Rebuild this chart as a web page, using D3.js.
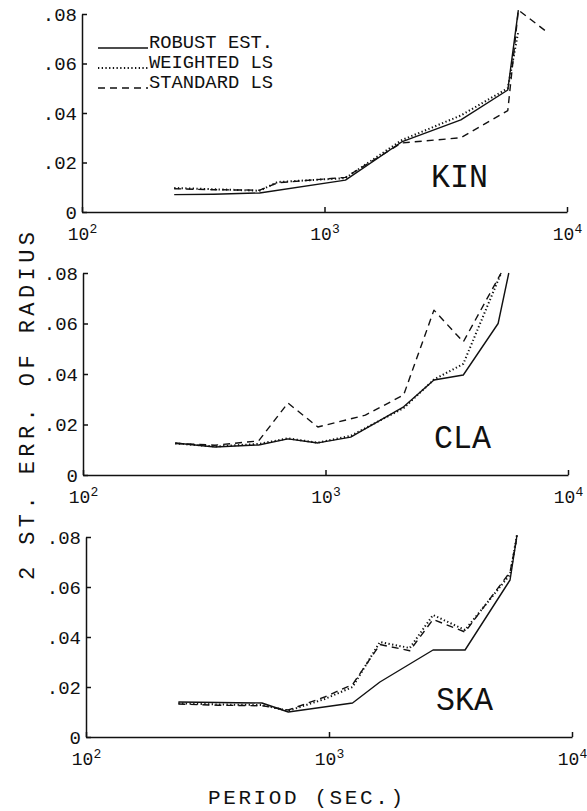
<!DOCTYPE html>
<html><head><meta charset="utf-8">
<script src="https://cdn.jsdelivr.net/npm/d3@7/dist/d3.min.js"></script>
<style>
body{margin:0;background:#fff}
svg{display:block;background:#fff}
text{font-family:"Liberation Mono","DejaVu Sans Mono",monospace;fill:#111}
</style>
</head><body>
<svg id="c" width="587" height="811"></svg>
<script>
// ---------------- data ----------------
const seriesNames = ["ROBUST EST.", "WEIGHTED LS", "STANDARD LS"];
const yTickValues = [0, 0.02, 0.04, 0.06, 0.08];
const xTickValues = [100, 1000, 10000];
const xTickBase = ["10", "10", "10"];
const xTickExp = ["2", "3", "4"];
const stationNames = ["KIN", "CLA", "SKA"];

const kinPeriods  = [240, 350, 540, 640, 1220, 2080, 3650, 5700, 6300, 8200];
const kinRobust   = [0.0070, 0.0072, 0.0077, null, 0.0129, 0.0283, 0.0372, 0.0493, 0.0816, null];
const kinWeighted = [0.0097, 0.0092, 0.0086, 0.0121, 0.0137, 0.0290, 0.0390, 0.0500, 0.0730, null];
const kinStandard = [0.0094, 0.0090, 0.0088, 0.0118, 0.0140, 0.0279, 0.0300, 0.0410, 0.0816, 0.0730];

const claPeriods  = [240, 350, 530, 700, 930, 1270, 1460, 2100, 2800, 3700, 5150, 5300, 5700];
const claRobust   = [0.0127, 0.0111, 0.0119, 0.0143, 0.0127, 0.0150, null, 0.0270, 0.0376, 0.0396, 0.0600, null, 0.0800];
const claWeighted = [0.0125, 0.0113, 0.0123, 0.0145, 0.0128, 0.0155, null, 0.0265, 0.0378, 0.0440, null, 0.0800, null];
const claStandard = [0.0125, 0.0118, 0.0135, 0.0285, 0.0190, null, 0.0237, 0.0317, 0.0653, 0.0527, null, 0.0800, null];

const skaPeriods  = [240, 350, 530, 680, 960, 1250, 1620, 2150, 2680, 3630, 5560, 5940];
const skaRobust   = [0.0140, 0.0138, 0.0136, 0.0100, null, 0.0136, 0.0220, null, 0.0348, 0.0348, 0.0628, 0.0808];
const skaWeighted = [0.0135, 0.0130, 0.0128, 0.0105, 0.0152, 0.0200, 0.0380, 0.0356, 0.0488, 0.0428, 0.0650, 0.0810];
const skaStandard = [0.0132, 0.0127, 0.0125, 0.0108, 0.0160, 0.0210, 0.0370, 0.0345, 0.0470, 0.0420, 0.0660, 0.0800];

// ---------------- layout ----------------
const panels = [
  {name: stationNames[0], periods: kinPeriods, series: [kinRobust, kinWeighted, kinStandard],
   x0: 82, x1: 567, yb: 212, yt: 14, lx: 431, ly: 187},
  {name: stationNames[1], periods: claPeriods, series: [claRobust, claWeighted, claStandard],
   x0: 83, x1: 568, yb: 475, yt: 273, lx: 434, ly: 448},
  {name: stationNames[2], periods: skaPeriods, series: [skaRobust, skaWeighted, skaStandard],
   x0: 86, x1: 572, yb: 737, yt: 537, lx: 436, ly: 710}
];
const styles = [
  {dash: null, w: 1.4},
  {dash: "1.3,2.4", w: 2.0},
  {dash: "7,5", w: 1.4}
];

const svg = d3.select("#c");
svg.append("rect").attr("width", 587).attr("height", 811).attr("fill", "#fff");

panels.forEach((p, pi) => {
  const x = d3.scaleLog().domain([100, 10000]).range([p.x0, p.x1]);
  const y = d3.scaleLinear().domain([0, 0.08]).range([p.yb, p.yt]);
  const g = svg.append("g");

  // y axis
  const ya = d3.axisLeft(y).tickValues(yTickValues)
    .tickSizeInner(-5).tickSizeOuter(0).tickPadding(5)
    .tickFormat(v => v === 0 ? "0" : d3.format(".2f")(v).replace(/^0/, ""));
  const yg = g.append("g").attr("transform", `translate(${p.x0},0)`).call(ya);
  yg.selectAll("text").attr("font-size", 19).attr("font-family", "Liberation Mono");
  yg.selectAll("path,line").attr("stroke", "#111").attr("stroke-width", 1.5);

  // x axis
  const xa = d3.axisBottom(x).tickValues(xTickValues)
    .tickSizeInner(-5).tickSizeOuter(0).tickPadding(12).tickFormat(() => "");
  const xg = g.append("g").attr("transform", `translate(0,${p.yb})`).call(xa);
  xg.selectAll("path,line").attr("stroke", "#111").attr("stroke-width", 1.5);
  xg.selectAll(".tick text").each(function(d, i) {
    const t = d3.select(this).attr("font-size", 18).attr("y", 28).attr("dy", null)
      .attr("text-anchor", "middle").attr("font-family", "Liberation Mono");
    t.append("tspan").text(xTickBase[i]);
    t.append("tspan").attr("font-size", 13).attr("dy", -7).text(xTickExp[i]);
  });

  // series
  p.series.forEach((vals, si) => {
    const pts = p.periods.map((per, k) => [per, vals[k]]).filter(d => d[1] != null);
    const line = d3.line().x(d => x(d[0])).y(d => y(d[1]));
    g.append("path").datum(pts).attr("d", line)
      .attr("fill", "none").attr("stroke", "#111")
      .attr("stroke-width", styles[si].w)
      .attr("stroke-dasharray", styles[si].dash)
      .attr("stroke-linejoin", "round");
  });

  // station label
  g.append("text").attr("x", p.lx).attr("y", p.ly)
    .attr("font-size", 34).attr("textLength", 57).attr("lengthAdjust", "spacingAndGlyphs")
    .text(p.name);
});

// legend (top panel)
const legY = [48, 68, 88];
seriesNames.forEach((n, i) => {
  svg.append("line").attr("x1", 98).attr("x2", 148).attr("y1", legY[i]).attr("y2", legY[i])
    .attr("stroke", "#111").attr("stroke-width", styles[i].w)
    .attr("stroke-dasharray", styles[i].dash);
  svg.append("text").attr("x", 149).attr("y", legY[i]).attr("font-size", 19)
    .attr("textLength", 124).attr("lengthAdjust", "spacingAndGlyphs").text(n);
});

// axis titles
svg.append("text").attr("transform", "translate(34,406) rotate(-90)")
  .attr("text-anchor", "middle").attr("font-size", 22)
  .attr("textLength", 348).attr("lengthAdjust", "spacing")
  .text("2 ST. ERR. OF RADIUS");
svg.append("text").attr("x", 208).attr("y", 804).attr("font-size", 21)
  .attr("textLength", 195).attr("lengthAdjust", "spacing")
  .text("PERIOD (SEC.)");
</script>
</body></html>
